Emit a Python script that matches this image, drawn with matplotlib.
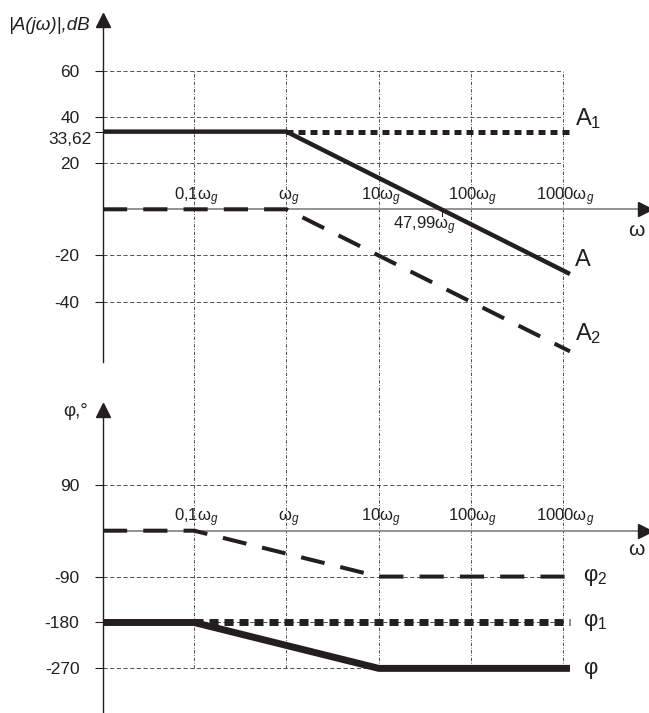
import matplotlib.pyplot as plt

plt.rcParams["font.family"] = ["Liberation Sans", "DejaVu Sans"]
plt.rcParams["mathtext.fontset"] = "custom"
plt.rcParams["mathtext.rm"] = "Liberation Sans"
plt.rcParams["mathtext.it"] = "Liberation Sans:italic"

# frequencies are in units of w_g
w_a = [0.0103, 1, 1180]
a_db = [33.62, 33.62, -28.0]
w_a1 = [1, 1180]
a1_db = [33.62, 33.62]
w_a2 = [0.0103, 1, 1180]
a2_db = [0, 0, -61.5]

w_phi = [0.0103, 0.1, 10, 1180]
phi_deg = [-180, -180, -270, -270]
w_phi1 = [0.1, 1180]
phi1_deg = [-180, -180]
w_phi2 = [0.0103, 0.1, 10, 1180]
phi2_deg = [0, 0, -90, -90]

decades = [0.1, 1, 10, 100, 1000]
decade_labels = ["0,1ω$_g$", "ω$_g$", "10ω$_g$", "100ω$_g$", "1000ω$_g$"]
db_ticks = [60, 40, 20, -20, -40]
deg_ticks = [90, -90, -180, -270]
a_level = 33.62
w_cross = 47.99

INK = "#231f20"
GRID = "#333333"
W, H = 649, 713
xlim = (10 ** -1.987, 10 ** 3.928)


def setup_axes(ax, ylim, rows, extra_ticks, spine_top, arrow_y, grid_lo, grid_hi):
    ax.set_xscale("log")
    ax.set_xlim(*xlim)
    ax.set_ylim(*ylim)
    ax.patch.set_alpha(0)
    for s in ["top", "right", "bottom"]:
        ax.spines[s].set_visible(False)
    ax.spines["left"].set_bounds(ylim[0], spine_top)
    ax.spines["left"].set_linewidth(1.0)
    ax.spines["left"].set_color(INK)
    ax.tick_params(axis="x", which="both", bottom=False, labelbottom=False)
    ax.set_yticks(rows + extra_ticks,
                  labels=[str(t) for t in rows] + [""] * len(extra_ticks))
    ax.tick_params(axis="y", length=6, width=0.8, pad=11, labelsize=12.5,
                   color=INK, labelcolor=INK)

    # grid only up to 1000 w_g
    ax.hlines(rows, xlim[0], 1000, colors=GRID, lw=0.6,
              linestyles=(0, (5, 3)), zorder=1)
    ax.vlines(decades, grid_lo, grid_hi, colors=GRID, lw=0.6,
              linestyles=(0, (4, 2, 1, 2)), zorder=1)

    # omega axis and arrow heads
    ax.axhline(0, color="#808080", lw=1.2, zorder=2)
    ax.plot(0.9927, 0, ">", color=INK, ms=9.5,
            transform=ax.get_yaxis_transform(), clip_on=False, zorder=5)
    ax.plot(0, arrow_y, "^", color=INK, ms=10,
            transform=ax.get_yaxis_transform(), clip_on=False, zorder=5)

    for w, lab in zip(decades, decade_labels):
        ax.annotate(lab, xy=(w, 0), xytext=(1.5, 1.2), textcoords="offset points",
                    ha="center", va="bottom", fontsize=12, color=INK, zorder=4)


fig = plt.figure(figsize=(W / 100, H / 100), dpi=100)
ax1 = fig.add_axes([103 / W, (H - 362) / H, 546 / W, 350 / H])
ax2 = fig.add_axes([103 / W, 0, 546 / W, 351 / H])

# ---- magnitude ----
setup_axes(ax1, (-66.1, 85.4), db_ticks, [a_level], 79.0, 82.0, -66.1, 60)
ax1.annotate("33,62", xy=(xlim[0], a_level), xytext=(-8.5, -0.5),
             textcoords="offset points", ha="right", va="top",
             fontsize=12.5, color=INK)

ax1.plot(w_a1, a1_db, color=INK, lw=3.6, dashes=(1.4, 1.0), zorder=3)
ax1.plot(w_a2, a2_db, color=INK, lw=2.9, dashes=(6, 4), zorder=3)
ax1.plot(w_a, a_db, color=INK, lw=3.2, solid_capstyle="butt", zorder=3)

ax1.plot([w_cross, w_cross], [0, -3], color=INK, lw=0.8, zorder=2)
ax1.annotate("47,99ω$_g$", xy=(w_cross, 0), xytext=(-12.5, -4),
             textcoords="offset points", ha="center", va="top",
             fontsize=12, color=INK)

ax1.text(1340, 36.5, "A$_\\mathrm{1}$", fontsize=17, color=INK, va="baseline")
ax1.text(1340, -24.6, "A", fontsize=17, color=INK, va="baseline")
ax1.text(1340, -56.6, "A$_\\mathrm{2}$", fontsize=17, color=INK, va="baseline")
ax1.text(5000, -9.0, "ω", fontsize=15, color=INK, va="center")

# ---- phase ----
setup_axes(ax2, (-357.5, 330.8), deg_ticks, [], 222.0, 236.7, -270, 330.8)

ax2.plot(w_phi1, phi1_deg, color=INK, lw=5.0, dashes=(1.3, 0.86), zorder=3)
ax2.plot(w_phi2, phi2_deg, color=INK, lw=2.9, dashes=(6, 4), zorder=3)
ax2.plot(w_phi, phi_deg, color=INK, lw=5.0, solid_capstyle="butt", zorder=3)

ax2.text(1634, -90, "φ$_\\mathrm{2}$", fontsize=16, color=INK, va="center")
ax2.text(1634, -180, "φ$_\\mathrm{1}$", fontsize=16, color=INK, va="center")
ax2.text(1634, -270, "φ", fontsize=16, color=INK, va="center")
ax2.text(5000, -36, "ω", fontsize=15, color=INK, va="center")

fig.text(90 / W, 1 - 25 / H, "|A(jω)|,dB", ha="right", va="center",
         style="italic", fontsize=13.5, color=INK)
fig.text(88 / W, 1 - 412 / H, "φ,°", ha="right", va="center",
         fontsize=13.5, color=INK)

fig.savefig("out.png", dpi=100)
